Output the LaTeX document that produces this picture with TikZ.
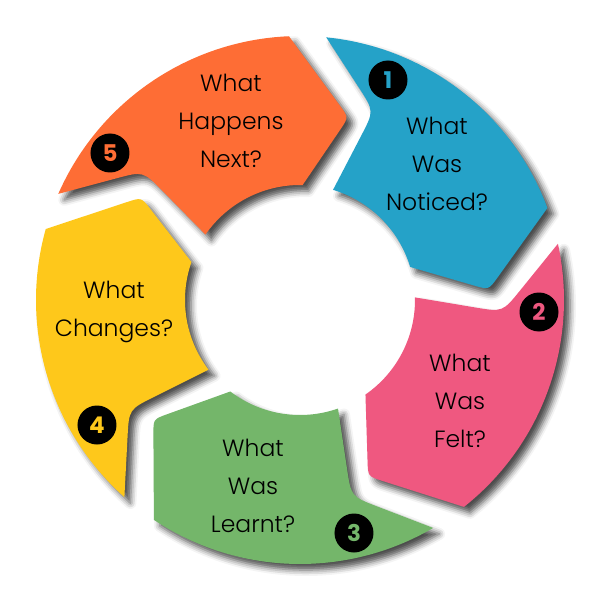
\documentclass[tikz,border=0pt]{standalone}
\usepackage{fontspec}
\setmainfont{Poppins}[UprightFont={* Light},BoldFont={* Bold}]
\usetikzlibrary{calc,shadows.blur}
\definecolor{cblue}{HTML}{25A2C8}
\definecolor{cpink}{HTML}{EF5880}
\definecolor{cgreen}{HTML}{74B66A}
\definecolor{cyellow}{HTML}{FEC81B}
\definecolor{corange}{HTML}{FE6D35}
\begin{document}
\begin{tikzpicture}[x=1pt,y=1pt,
  seg/.style={fill=#1,blur shadow={shadow xshift=6pt,shadow yshift=-6pt,shadow blur radius=6pt,shadow opacity=70}},
  lbl/.style={font=\fontsize{23.5}{38}\selectfont,align=center,text=black,inner sep=0pt},
  num/.style={circle,fill=black,minimum size=39pt,inner sep=0pt,text=#1,font=\fontsize{23}{23}\selectfont\bfseries}]
\useasboundingbox (-300,-300) rectangle (300,300);
\foreach \k/\col in {0/cblue,1/cpink,2/cgreen,3/cyellow,4/corange}{
  \pgfmathsetmacro\aTO{84.3-72*\k}
  \pgfmathsetmacro\aN{68.6-72*\k}
  \pgfmathsetmacro\aTI{73.3-72*\k}
  \pgfmathsetmacro\aLI{16.7-72*\k}
  \pgfmathsetmacro\aT{3.1-72*\k}
  \pgfmathsetmacro\aLO{20.4-72*\k}
  \coordinate (TO\k) at (\aTO:264pt);
  \coordinate (N\k) at (\aN:203pt);
  \coordinate (TI\k) at (\aTI:115pt);
  \coordinate (LI\k) at (\aLI:115pt);
  \coordinate (T\k) at (\aT:189pt);
  \coordinate (LO\k) at (\aLO:264pt);
  \fill[seg=\col] (TO\k) -- ($(N\k)!28pt!(TO\k)$) .. controls (N\k) .. ($(N\k)!28pt!(TI\k)$) -- (TI\k)
    arc[start angle=\aTI,end angle=\aLI,radius=115pt]
    -- ($(T\k)!15pt!(LI\k)$) .. controls (T\k) .. ($(T\k)!15pt!(LO\k)$) -- (LO\k)
    arc[start angle=\aLO,end angle=\aTO,radius=264pt] -- cycle;
}
\node[lbl] (t1) at (137,136) {What\\Was\\Noticed?};
\node[lbl] (t2) at (160,-101) {What\\Was\\Felt?};
\node[lbl] (t3) at (-47,-186) {What\\Was\\Learnt?};
\node[lbl] (t4) at (-186,-12) {What\\Changes?};
\node[lbl] (t5) at (-69,179) {What\\Happens\\Next?};
\node[num=cblue] (n1) at (88,220) {1};
\node[num=cpink] (n2) at (239,-12) {2};
\node[num=cgreen] (n3) at (54,-233) {3};
\node[num=cyellow] (n4) at (-203,-125) {4};
\node[num=corange] (n5) at (-190,147) {5};
\end{tikzpicture}
\end{document}
